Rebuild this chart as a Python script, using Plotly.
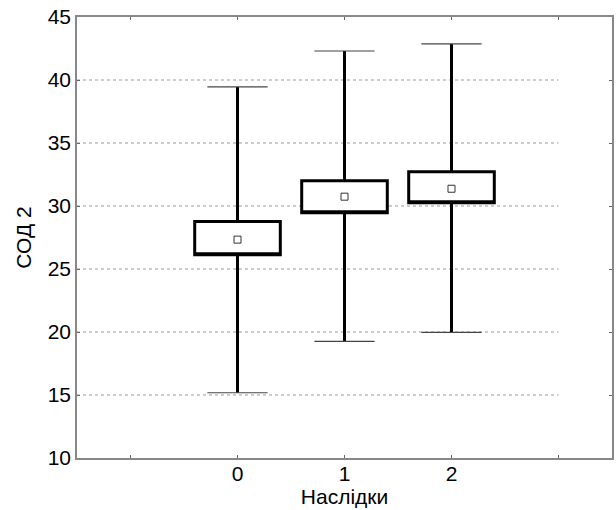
import plotly.graph_objects as go

# Data (Statistica-style box plot)
categories = [0, 1, 2]
means = [27.33, 30.74, 31.37]
box_low = [26.14, 29.47, 30.26]
box_high = [28.76, 32.00, 32.72]
whisker_low = [15.18, 19.25, 19.97]
whisker_high = [39.45, 42.30, 42.86]

x_tick_vals = [-1, 0, 1, 2, 3]
x_tick_text = ["", "0", "1", "2", ""]
y_tick_vals = [10, 15, 20, 25, 30, 35, 40, 45]
grid_vals = [15, 20, 25, 30, 35, 40]

FONT = "Liberation Sans, Arial, sans-serif"
FS = 21

fig = go.Figure()

# Boxes (median placed on q1 so it merges with the lower edge) with whiskers
fig.add_trace(go.Box(
    x=categories,
    q1=box_low,
    median=box_low,
    q3=box_high,
    lowerfence=whisker_low,
    upperfence=whisker_high,
    width=0.8,
    whiskerwidth=0,
    fillcolor="white",
    line=dict(color="black", width=3),
    boxpoints=False,
    showlegend=False,
    hoverinfo="skip",
))

# Whisker caps (thin)
fig.add_trace(go.Scatter(
    x=categories + categories,
    y=whisker_high + whisker_low,
    mode="markers",
    marker=dict(symbol="line-ew", size=43, color="#444444",
                line=dict(color="#444444", width=1.2)),
    showlegend=False,
    hoverinfo="skip",
))

# Mean markers
fig.add_trace(go.Scatter(
    x=categories,
    y=means,
    mode="markers",
    marker=dict(symbol="square-open", size=7, color="#333333",
                line=dict(color="#333333", width=1)),
    showlegend=False,
    hoverinfo="skip",
))

# Dotted gridlines (Statistica draws them up to the last x tick)
shapes = []
for v in grid_vals:
    shapes.append(dict(type="line", xref="x", yref="y",
                       x0=-1.5, x1=x_tick_vals[-1], y0=v, y1=v,
                       line=dict(color="#999999", width=1, dash="dot"),
                       layer="below"))

fig.update_layout(
    width=616, height=510,
    margin=dict(l=77, r=4, t=17, b=52),
    paper_bgcolor="white",
    plot_bgcolor="white",
    font=dict(family=FONT, size=FS, color="black"),
    shapes=shapes,
    xaxis=dict(
        range=[-1.5, 3.5],
        tickmode="array", tickvals=x_tick_vals, ticktext=x_tick_text,
        ticks="inside", ticklen=3, tickcolor="#666666",
        showgrid=False, zeroline=False, automargin=False,
        showline=True, linecolor="#888888", linewidth=1.5, mirror="ticks",
        ticklabelstandoff=-4,
        title=dict(text="Наслідки", font=dict(family=FONT, size=FS), standoff=3),
        tickfont=dict(family=FONT, size=FS),
    ),
    yaxis=dict(
        range=[10, 45],
        tickmode="array", tickvals=y_tick_vals,
        ticks="inside", ticklen=3, tickcolor="#666666",
        showgrid=False, zeroline=False, automargin=False,
        showline=True, linecolor="#888888", linewidth=1.5, mirror="ticks",
        title=dict(text="СОД 2", font=dict(family=FONT, size=FS), standoff=10),
        tickfont=dict(family=FONT, size=FS),
    ),
)

fig.write_html(
    "out.html",
    config={"displayModeBar": False},
    post_script="document.body.style.margin='0';document.body.style.overflow='hidden';",
)
